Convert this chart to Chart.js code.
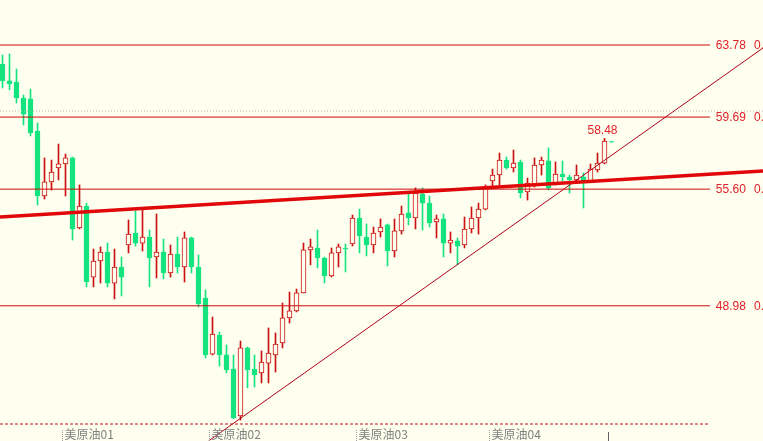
<!DOCTYPE html>
<html>
<head>
<meta charset="utf-8">
<style>
  html, body { margin: 0; padding: 0; background: #fffff0; }
  #wrap { width: 763px; height: 441px; }
</style>
<script src="https://cdn.jsdelivr.net/npm/chart.js@4.4.1/dist/chart.umd.min.js"></script>
</head>
<body>
<div id="wrap"><canvas id="kChart" width="763" height="441"></canvas></div>
<script>
        // daily candles
        const opens = [62.70, 61.74, 61.68, 60.77, 60.72, 58.90, 55.21, 56.01, 56.80, 57.03,
            57.37, 53.40, 54.64, 50.61, 51.52, 52.03, 50.27, 51.18, 52.43, 53.11,
            52.54, 52.88, 51.75, 52.03, 50.84, 51.92, 51.18, 52.83, 51.18, 49.42,
            46.24, 47.32, 46.19, 45.39, 42.73, 46.59, 45.39, 45.17, 45.73, 46.19,
            46.87, 48.29, 48.69, 49.71, 52.15, 52.26, 51.69, 50.67, 51.98, 52.26,
            52.49, 53.96, 52.88, 52.43, 53.17, 53.57, 52.09, 53.23, 54.25, 53.96,
            55.32, 54.81, 53.74, 53.91, 52.54, 52.66, 52.43, 53.34, 53.96, 54.47,
            56.06, 56.40, 57.25, 56.80, 57.14, 55.44, 55.84, 56.97, 57.20, 55.95,
            56.46, 56.29, 56.12, 56.29, 56.06, 56.69, 57.08, 58.30];
        const highs = [63.21, 63.27, 62.42, 60.94, 61.28, 59.35, 57.37, 57.25, 58.16, 57.59,
            57.42, 55.84, 54.81, 52.20, 52.32, 52.54, 52.20, 51.75, 53.85, 54.36,
            54.47, 53.28, 54.19, 52.77, 52.43, 52.88, 53.17, 52.88, 51.86, 49.88,
            48.34, 47.49, 46.76, 46.19, 46.98, 46.64, 46.19, 46.42, 47.72, 47.44,
            49.14, 49.76, 49.93, 52.54, 52.77, 53.28, 51.75, 52.26, 52.49, 52.49,
            54.13, 54.47, 53.62, 53.45, 53.91, 53.62, 53.91, 54.64, 55.38, 55.67,
            55.67, 55.21, 54.13, 54.19, 53.17, 52.83, 54.02, 54.59, 54.81, 55.84,
            56.74, 57.65, 57.42, 57.82, 57.25, 56.23, 57.37, 57.42, 57.94, 57.14,
            57.20, 56.40, 56.97, 56.52, 57.03, 57.65, 58.48, 58.30];
        const lows = [61.34, 61.23, 60.49, 59.24, 58.62, 54.70, 55.04, 55.55, 56.12, 55.21,
            52.71, 53.34, 50.05, 50.05, 50.27, 50.05, 49.37, 49.54, 51.98, 52.37,
            52.09, 50.05, 50.56, 50.50, 50.61, 50.84, 50.33, 50.84, 48.91, 46.02,
            46.19, 45.56, 45.17, 42.56, 42.50, 44.32, 44.37, 44.60, 44.60, 45.22,
            46.59, 48.00, 48.63, 49.71, 51.30, 51.13, 50.27, 50.61, 51.18, 50.90,
            52.37, 51.98, 51.81, 51.98, 52.88, 51.24, 51.75, 53.05, 53.57, 53.34,
            53.28, 53.45, 52.83, 51.75, 51.98, 51.30, 52.26, 53.11, 53.05, 54.42,
            55.78, 55.84, 56.74, 56.57, 55.10, 54.98, 55.72, 56.40, 55.55, 55.84,
            56.06, 55.38, 56.01, 54.53, 56.01, 56.57, 57.03, 58.26];
        const closes = [61.74, 61.57, 60.77, 59.86, 58.79, 55.21, 56.01, 56.57, 57.03, 57.37,
            53.34, 54.64, 50.33, 51.52, 52.03, 50.27, 51.18, 50.61, 53.05, 52.54,
            52.88, 51.69, 52.03, 50.84, 51.92, 51.18, 52.83, 51.18, 49.08, 46.19,
            47.38, 46.19, 45.34, 42.61, 46.59, 45.34, 45.05, 45.79, 46.30, 46.81,
            48.29, 48.69, 49.71, 52.15, 52.32, 51.69, 50.67, 51.98, 52.32, 52.20,
            53.96, 52.94, 52.43, 53.11, 53.45, 52.09, 53.23, 54.19, 53.96, 55.38,
            54.81, 53.68, 53.91, 52.54, 52.71, 52.37, 53.34, 53.96, 54.47, 55.72,
            56.40, 57.25, 56.80, 57.08, 55.38, 55.95, 56.97, 57.25, 55.67, 56.46,
            56.29, 56.12, 56.40, 56.01, 56.74, 57.08, 58.33, 58.26];

        // horizontal levels and their right-hand tags
        const levels = [63.78, 59.69, 55.60, 48.98];
        const levelTags = ["0.", "0.", "0.", "0."];
        const baseLevel = 42.27;      // dashed line at the bottom
        const dottedLevel = 60.03;    // grey dotted line

        // trend lines as [index, price] pairs
        const supportLine = [[-0.36, 54.02], [108.64, 56.63]];
        const riseLine = [[29.44, 41.31], [108.64, 63.61]];

        // month separators on the x axis
        const monthTicks = [8.5, 29.5, 50.5, 69.5];
        const monthLabels = ["美原油01", "美原油02", "美原油03", "美原油04"];
        const lastTick = 86.5;
        const peakIndex = 86;

        const BG = "#fffff0";
        const GREEN = "#14e47f";
        const RED = "#cc1010";

        const xMin = -0.357, xMax = 108.643;
        const levelEnd = 101.07;

        const isUp = opens.map((o, i) => closes[i] >= o);

        function hline(v, x0, x1) {
            return [{ x: x0, y: v }, { x: x1, y: v }];
        }
        function lineData(pts) {
            return pts.map(p => ({ x: p[0], y: p[1] }));
        }

        const lineSets = levels.map(v => ({
            type: 'line', data: hline(v, xMin, levelEnd), borderColor: "#cc0a0a",
            borderWidth: 1, pointRadius: 0, order: 0
        }));
        lineSets.push({
            type: 'line', data: hline(baseLevel, xMin, levelEnd), borderColor: "#c0101a",
            borderWidth: 1, borderDash: [3, 2], pointRadius: 0, order: 0
        });
        lineSets.push({
            type: 'line', data: hline(dottedLevel, xMin, xMax), borderColor: "#b8b8b8",
            borderWidth: 1, borderDash: [1, 2], pointRadius: 0, order: 0
        });
        lineSets.push({
            type: 'line', data: lineData(supportLine), borderColor: "#e00808",
            borderWidth: 3.5, pointRadius: 0, order: 0
        });
        lineSets.push({
            type: 'line', data: lineData(riseLine), borderColor: "#b0001a",
            borderWidth: 1, pointRadius: 0, order: 0
        });

        const bgPlugin = {
            id: 'bg',
            beforeDraw(chart) {
                const ctx = chart.ctx;
                ctx.save();
                ctx.fillStyle = BG;
                ctx.fillRect(0, 0, chart.width, chart.height);
                ctx.restore();
            }
        };

        const textPlugin = {
            id: 'texts',
            afterDraw(chart) {
                const { ctx, scales: { x, y } } = chart;
                ctx.save();
                ctx.font = '12px "Liberation Sans", Arial, sans-serif';
                ctx.textBaseline = 'middle';
                ctx.fillStyle = "#e0202a";
                levels.forEach((v, i) => {
                    const py = y.getPixelForValue(v) + 1;
                    ctx.fillText(v.toFixed(2), x.getPixelForValue(101.9), py);
                    ctx.fillText(levelTags[i], x.getPixelForValue(107.36), py);
                });
                // peak price tag
                ctx.textAlign = 'center';
                ctx.textBaseline = 'alphabetic';
                ctx.fillText(highs[peakIndex].toFixed(2), x.getPixelForValue(peakIndex) - 2,
                    y.getPixelForValue(highs[peakIndex]) - 4);

                // month labels
                ctx.textAlign = 'left';
                ctx.font = '12px "Noto Sans CJK SC", "Liberation Sans", sans-serif';
                ctx.fillStyle = "#808080";
                ctx.strokeStyle = "#a0a0a0";
                ctx.lineWidth = 1;
                monthTicks.forEach((t, i) => {
                    const px = Math.round(x.getPixelForValue(t)) + 0.5;
                    ctx.setLineDash([1, 1]);
                    ctx.beginPath();
                    ctx.moveTo(px, 430);
                    ctx.lineTo(px, 441);
                    ctx.stroke();
                    ctx.fillText(monthLabels[i], px + 2, 439);
                });
                ctx.setLineDash([]);
                ctx.strokeStyle = "#606060";
                const lx = Math.round(x.getPixelForValue(lastTick)) + 0.5;
                ctx.beginPath();
                ctx.moveTo(lx, 432);
                ctx.lineTo(lx, 441);
                ctx.stroke();
                ctx.restore();
            }
        };

        const ctx = document.getElementById("kChart").getContext("2d");
        new Chart(ctx, {
            type: 'bar',
            data: {
                datasets: [
                    ...lineSets,
                    {
                        // candle bodies
                        data: opens.map((o, i) => ({ x: i, y: [o, closes[i]] })),
                        backgroundColor: isUp.map(u => u ? BG : GREEN),
                        borderColor: isUp.map(u => u ? RED : GREEN),
                        borderWidth: 1,
                        borderSkipped: false,
                        barThickness: 5,
                        grouped: false,
                        order: 1
                    },
                    {
                        // wicks
                        data: highs.map((h, i) => ({ x: i, y: [lows[i], h] })),
                        backgroundColor: isUp.map(u => u ? RED : GREEN),
                        borderWidth: 0,
                        barThickness: 1,
                        grouped: false,
                        order: 2
                    }
                ]
            },
            options: {
                responsive: false,
                animation: false,
                layout: { padding: 0 },
                plugins: { legend: { display: false }, tooltip: { enabled: false } },
                scales: {
                    x: { type: 'linear', min: xMin, max: xMax, display: false, offset: false },
                    y: { min: 41.306, max: 66.334, display: false }
                }
            },
            plugins: [bgPlugin, textPlugin]
        });
</script>
</body>
</html>
